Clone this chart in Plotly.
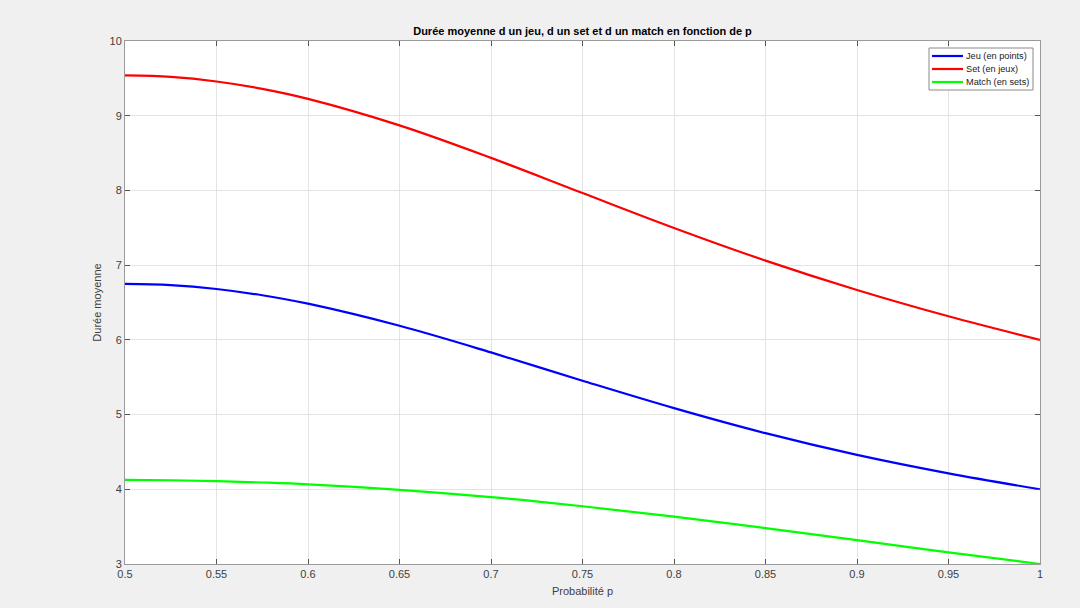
import plotly.graph_objects as go

p_values = [0.5, 0.525, 0.55, 0.575, 0.6, 0.65, 0.7, 0.75, 0.8, 0.85, 0.9, 0.95, 1.0]
jeu_points = [6.750, 6.733, 6.681, 6.597, 6.484, 6.188, 5.832, 5.453, 5.086, 4.751, 4.460, 4.213, 4.000]
set_jeux = [9.539, 9.519, 9.458, 9.360, 9.226, 8.871, 8.436, 7.965, 7.498, 7.061, 6.668, 6.316, 6.000]
match_sets = [4.125, 4.121, 4.110, 4.091, 4.066, 3.993, 3.895, 3.773, 3.634, 3.480, 3.319, 3.156, 3.000]

series_names = ["Jeu (en points)", "Set (en jeux)", "Match (en sets)"]
series_colors = ["#0000ff", "#ff0000", "#00ff00"]

x_ticks = [0.5, 0.55, 0.6, 0.65, 0.7, 0.75, 0.8, 0.85, 0.9, 0.95, 1.0]
x_tick_text = ["0.5", "0.55", "0.6", "0.65", "0.7", "0.75", "0.8", "0.85", "0.9", "0.95", "1"]
y_ticks = [3, 4, 5, 6, 7, 8, 9, 10]

# layout geometry (pixels)
W, H = 1080, 608
L, R, T, B = 125, 1040, 41, 564


def px(xp):
    return (xp - L) / (R - L)


def py(yp):
    return (B - yp) / (B - T)


fig = go.Figure()
for name, ys, col in zip(series_names, [jeu_points, set_jeux, match_sets], series_colors):
    fig.add_trace(go.Scatter(x=p_values, y=ys, mode="lines", name=name, showlegend=False,
                             line=dict(color=col, width=2.2, shape="spline", smoothing=1.0)))

# MATLAB-style legend box
fig.add_shape(type="rect", xref="paper", yref="paper",
              x0=px(929), x1=px(1033), y0=py(90), y1=py(48),
              line=dict(color="#8a8a8a", width=1), fillcolor="#ffffff", layer="above")
row_y = [56, 69, 82]
for name, col, ry in zip(series_names, series_colors, row_y):
    fig.add_shape(type="line", xref="paper", yref="paper",
                  x0=px(932), x1=px(963), y0=py(ry), y1=py(ry),
                  line=dict(color=col, width=2.2), layer="above")
    fig.add_annotation(xref="paper", yref="paper", x=px(964), y=py(ry),
                       xanchor="left", yanchor="middle", showarrow=False, text=name,
                       font=dict(family="Arial, Liberation Sans, sans-serif", size=9.2, color="#1a1a1a"))

axis_common = dict(
    showgrid=True, gridcolor="#e3e3e3", gridwidth=1,
    zeroline=False, showline=True, linecolor="#9a9a9a", linewidth=1,
    mirror="ticks", ticks="inside", ticklen=5, tickcolor="#555555",
    tickfont=dict(family="Arial, Liberation Sans, sans-serif", size=11, color="#404040"),
)

fig.update_layout(
    width=W, height=H,
    paper_bgcolor="#f0f0f0", plot_bgcolor="#ffffff",
    margin=dict(l=L, r=W - R, t=T, b=H - B),
    font=dict(family="Arial, Liberation Sans, sans-serif", size=11, color="#404040"),
    title=dict(text="<b>Durée moyenne d un jeu, d un set et d un match en fonction de p</b>",
               x=(L + R) / 2 / W, xanchor="center", y=1 - 31 / H, yanchor="middle",
               font=dict(size=11, color="#000000")),
    xaxis=dict(axis_common, range=[0.5, 1.0], tickvals=x_ticks, ticktext=x_tick_text,
               title=dict(text="Probabilité p", standoff=8, font=dict(size=11, color="#404040"))),
    yaxis=dict(axis_common, range=[3, 10], tickvals=y_ticks,
               title=dict(text="Durée moyenne", standoff=5, font=dict(size=11, color="#404040"))),
    showlegend=False,
)

fig.write_html("out.html", config={"displayModeBar": False},
               post_script="document.body.style.margin='0';document.body.style.padding='0';")
